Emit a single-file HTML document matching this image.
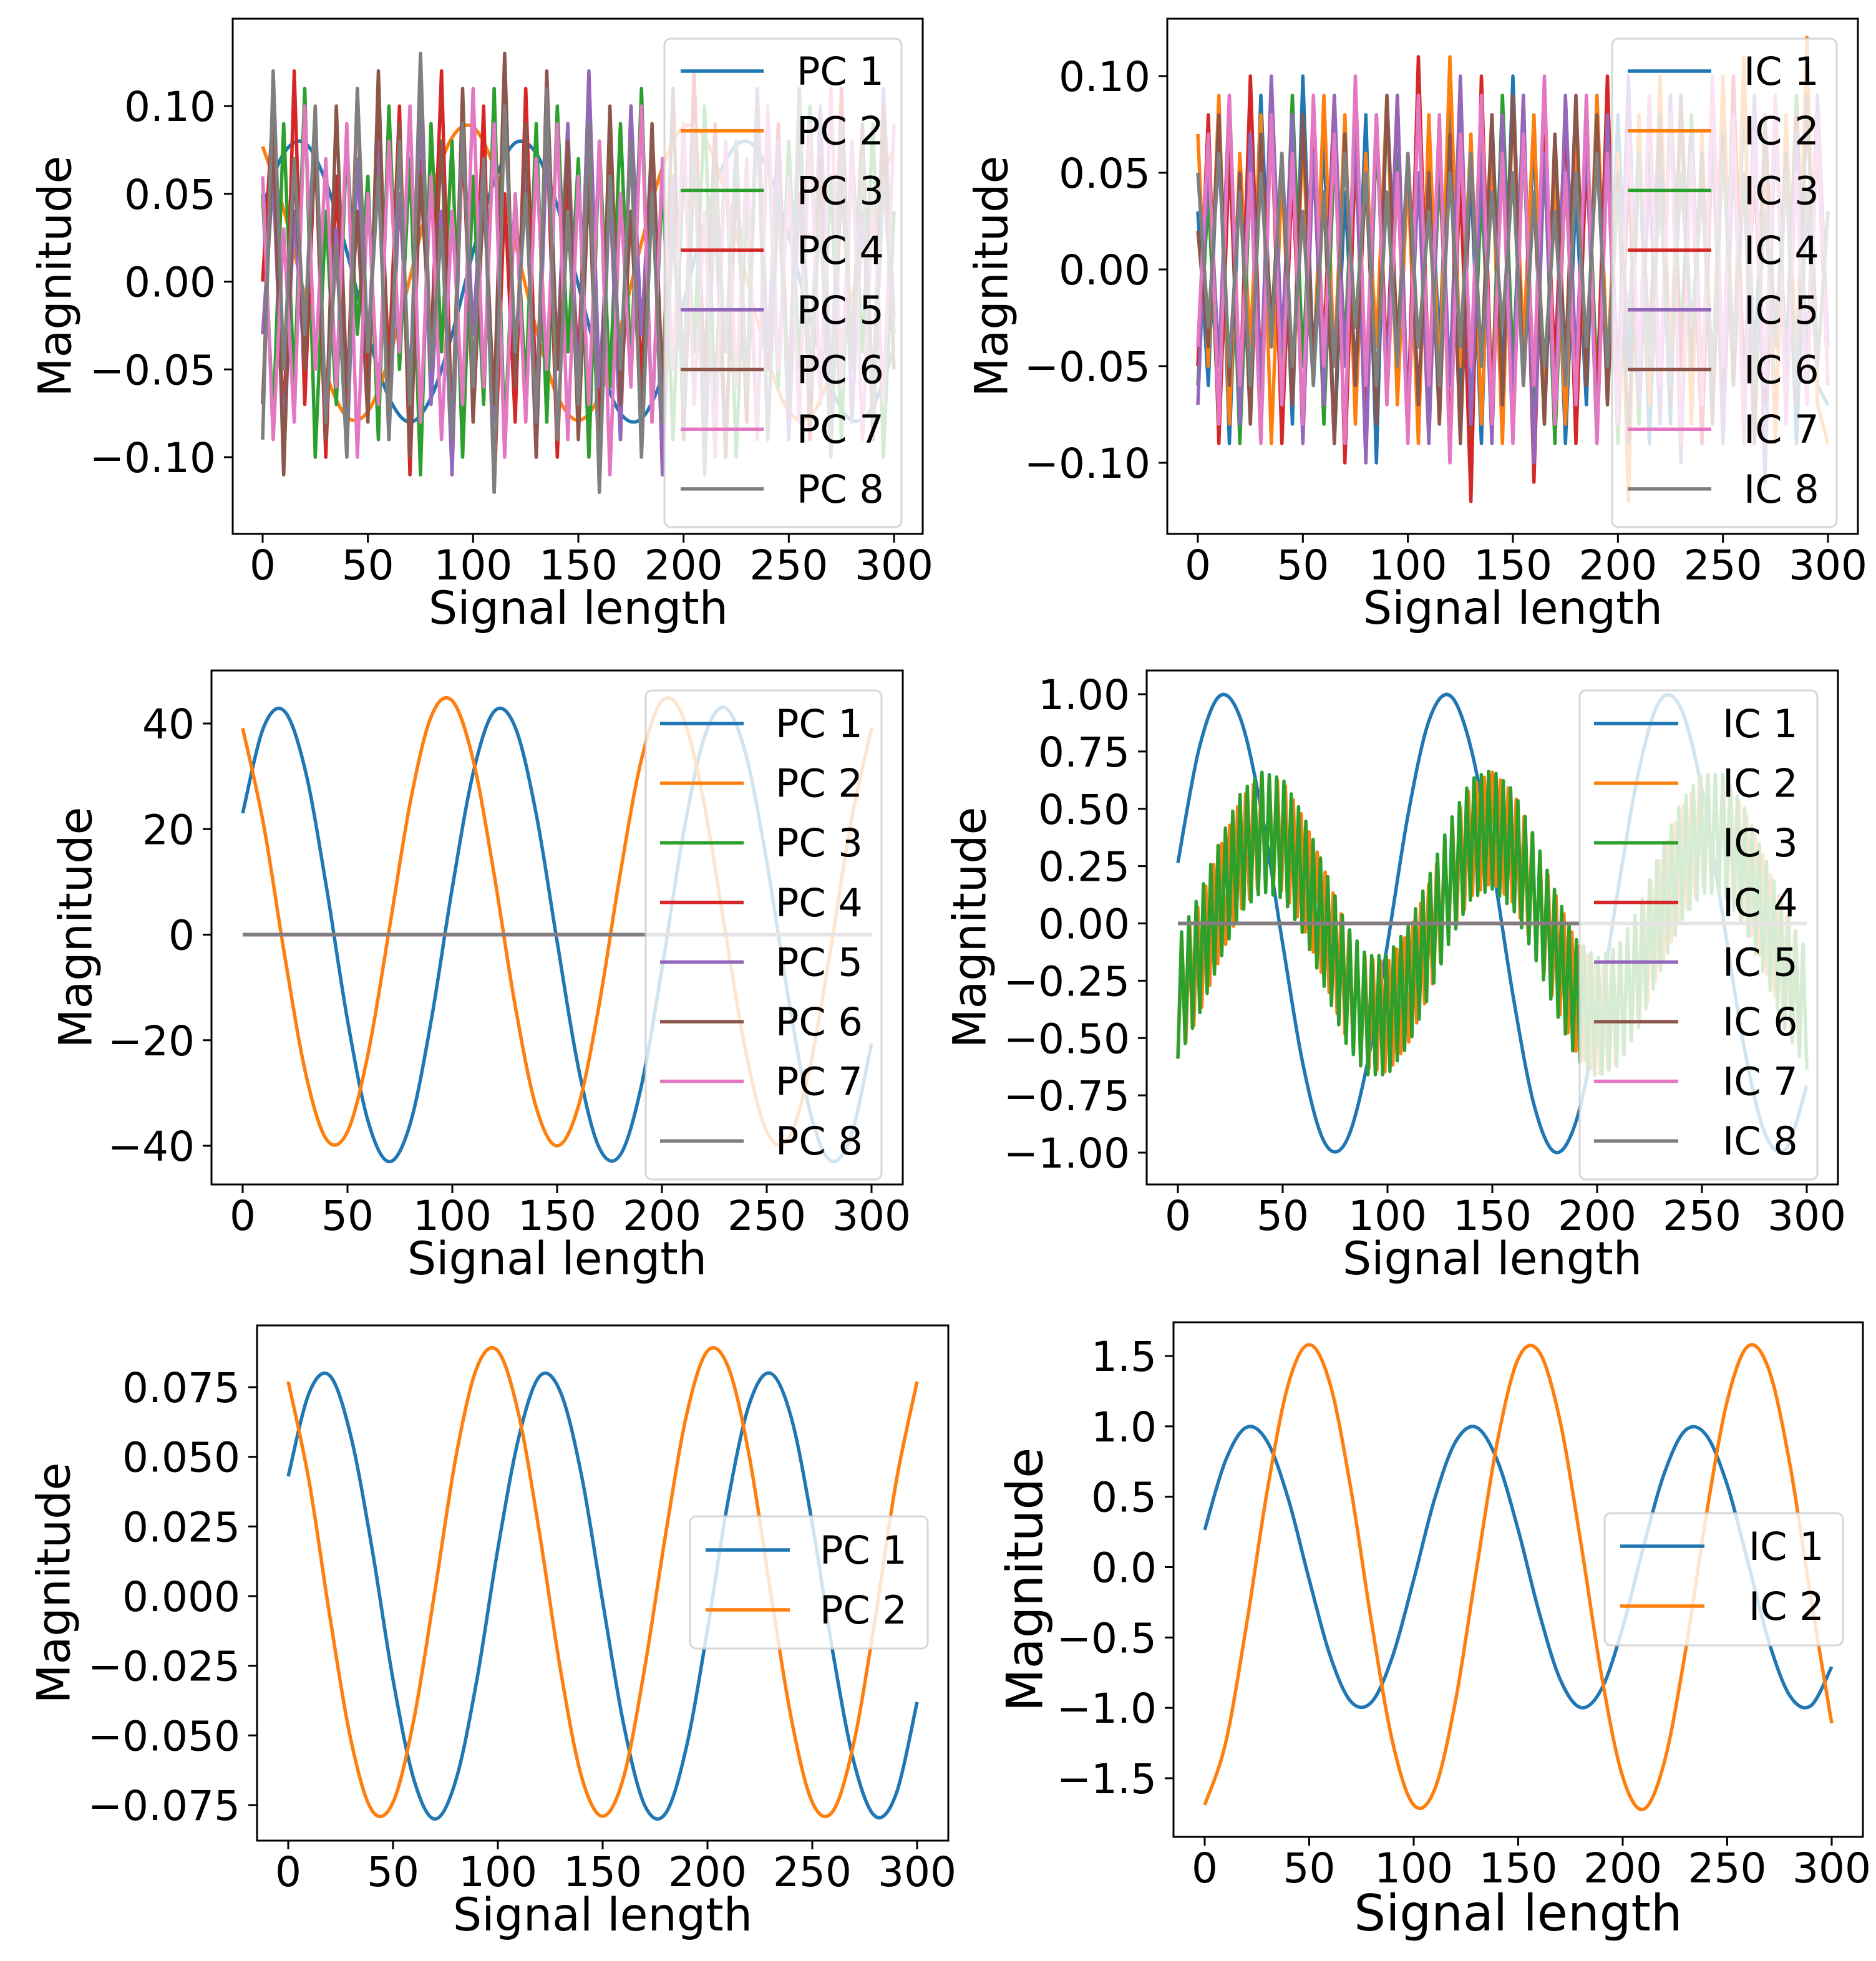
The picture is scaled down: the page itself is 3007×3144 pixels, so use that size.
<!DOCTYPE html>
<html><head><meta charset="utf-8"><style>
html,body{margin:0;padding:0;background:#fff;}
svg{display:block;font-family:"DejaVu Sans","Liberation Sans",sans-serif;}
</style></head><body>
<svg id="fig" xmlns="http://www.w3.org/2000/svg" width="3007" height="3144" viewBox="0 0 3007 3144">
<rect x="0" y="0" width="3007" height="3144" fill="#fff"/>
</svg>
<script>
// ---------- data ----------
const xTicks = [0, 50, 100, 150, 200, 250, 300];
const pcaPC1 = [23,39.3,42.3,30.9,8.9,-16.2,-35.6,-43,-35.7,-16.1,8.9,30.7,42.3,39.3,22.9,-1.3,-24.9,-40.3,-41.8,-29,-6.5,18.6,37.1,43,34.2,13.8,-11.2,-32.5,-42.7,-38.4,-20.6];
const pcaPC2 = [39.1,20.8,-3.9,-26.2,-38.8,-37.3,-22.2,1.2,25.2,41.4,44.3,33,11.3,-13.5,-32.7,-40,-32.7,-13.4,11.3,32.8,44.3,41.3,25.1,1.2,-22.2,-37.3,-38.8,-26.2,-3.9,20.9,39.1];
const normPC1 = [.043,.073,.079,.057,.017,-.030,-.066,-.080,-.066,-.030,.017,.057,.079,.073,.043,-.002,-.046,-.075,-.078,-.054,-.012,.035,.069,.080,.064,.026,-.021,-.060,-.079,-.071,-.038];
const normPC2 = [.077,.041,-.008,-.052,-.077,-.074,-.044,.002,.050,.082,.088,.065,.022,-.027,-.065,-.079,-.065,-.026,.022,.065,.088,.082,.050,.002,-.044,-.074,-.077,-.052,-.008,.041,.077];
const icIC1 = [.264,.758,.993,.890,.484,-.089,-.629,-.956,-.956,-.629,-.089,.484,.890,.993,.758,.264,-.321,-.795,-.998,-.862,-.429,.148,.671,.972,.937,.584,.030,-.534,-.914,-.985,-.708];
const icIC2 = [-1.69,-1.25,-.41,.55,1.30,1.58,1.30,.55,-.41,-1.25,-1.69,-1.58,-.95,-.02,.89,1.48,1.53,1.04,.17,-.78,-1.49,-1.72,-1.38,-.60,.37,1.18,1.57,1.40,.73,-.22,-1.11];
const mixIC2 = [-.35,-.16,.09,.30,.41,.38,.22,-.01,-.25,-.39,-.41,-.28,-.06,.18,.36,.42,.33,.13,-.11,-.32,-.42,-.37,-.20,.04,.26,.40,.40,.26,.04,-.20,-.37];
const mixIC3 = [-.33,-.14,.10,.31,.40,.37,.21,-.02,-.26,-.40,-.40,-.27,-.05,.19,.37,.41,.32,.12,-.12,-.33,-.41,-.36,-.19,.05,.27,.39,.39,.25,.03,-.21,-.38];
const mixRipple = [0.24, 0.26];
const zeros31 = [0,0,0,0,0,0,0,0,0,0,0,0,0,0,0,0,0,0,0,0,0,0,0,0,0,0,0,0,0,0,0];
const noisePC3 = [5,-8,9,-6,11,-10,4,-7,8,-3,6,-9,10,-5,7,-11,9,-4,8,-10,6,-7,11,-9,5,-6,9,-8,10,-4,7,-10,8,-6,9,-5,11,-8,6,-9,7,-4,10,-7,8,-10,5,-9,9,-6,8,-5,10,-7,6,-9,8,-4,9,-10,4];
const noisePC4 = [0,10,-9,12,-7,8,-10,6,-8,11,-6,9,-5,10,-11,7,-4,12,-9,8,-6,10,-12,5,-8,11,-7,9,-10,6,-5,11,-8,7,-9,10,-6,8,-11,5,-7,12,-6,9,-10,7,-8,11,-5,9,-7,10,-9,6,-8,11,-5,8,-9,7,-3];
const noisePC5 = [-3,6,-9,4,-5,9,-8,3,-10,7,-4,8,-9,5,-6,10,-7,4,-11,9,-3,7,-8,11,-5,6,-10,8,-4,9,-7,12,-6,5,-9,10,-3,8,-11,6,-5,9,-8,4,-10,7,-6,11,-4,8,-9,5,-7,10,-6,9,-8,4,-7,11,-2];
const noisePC6 = [-7,9,-11,7,-5,8,-9,10,-6,4,-8,12,-7,9,-10,6,-4,8,-9,11,-8,5,-7,13,-6,9,-10,12,-5,8,-9,6,-11,10,-7,4,-8,9,-6,11,-9,7,-5,8,-10,6,-7,10,-9,5,-6,9,-8,7,-10,6,-4,9,-7,10,-5];
const noisePC7 = [6,-9,3,-8,10,-5,7,-6,9,-10,5,-7,8,-4,10,-8,6,-9,4,-7,11,-6,9,-10,5,-8,7,-5,9,-9,6,-7,8,-11,5,-6,10,-8,7,-5,9,-7,4,-10,8,-6,7,-9,10,-5,6,-8,9,-7,11,-6,8,-9,5,-7,9];
const noisePC8 = [-9,12,-5,7,-3,10,-8,2,-10,11,-4,6,-9,8,-7,13,-5,3,-9,9,-6,7,-12,10,-4,5,-8,11,-9,4,-7,9,-12,6,-5,8,-10,5,-8,3,-7,9,-11,6,-4,8,-6,10,-9,5,-7,11,-6,4,-10,9,-5,7,-8,6,-3];
const noiseIC1 = [3,-6,8,-9,5,-7,9,-4,6,-8,10,-5,7,-9,4,-6,8,-10,9,-5,6,-8,7,-4,9,-7,5,-9,8,-6,10,-5,7,-8,6,-9,4,-7,9,-6,8,-5,7,-9,6,-8,9,-4,5,-7,8,-6,9,-5,7,-8,6,-9,4,-6,-7];
const noiseIC2 = [7,-5,9,-8,6,-4,8,-9,5,-7,7,-6,9,-5,8,-8,6,-4,9,-7,5,-9,8,-6,11,-5,7,-8,6,-9,9,-4,8,-7,5,-8,7,-6,9,-5,6,-12,8,-7,10,-5,9,-8,7,-6,10,-5,11,-8,6,-9,8,-5,12,-7,-9];
const noiseIC3 = [-6,4,-8,7,-9,5,-7,8,-6,9,-5,7,-8,6,-4,8,-9,7,-5,6,-8,9,-7,5,-6,8,-9,4,-7,9,-5,7,-8,6,-9,5,-7,8,-6,7,-9,5,-8,6,-7,9,-4,8,-6,7,-5,9,-8,6,-7,8,-5,9,-6,7,-4];
const noiseIC4 = [-5,8,-9,6,-7,10,-6,8,-9,5,-8,7,-4,9,-10,6,-7,8,-5,9,-8,11,-6,7,-9,5,-12,10,-7,6,-8,9,-11,7,-5,8,-9,6,-7,10,-8,5,-6,9,-7,8,-5,6,-9,7,-8,10,-6,5,-7,9,-6,8,-5,7,-6];
const noiseIC5 = [-7,6,-5,9,-8,7,-6,10,-4,8,-9,6,-7,9,-5,7,-10,8,-6,9,-8,5,-9,7,-6,10,-8,6,-9,8,-7,9,-10,6,-8,9,-5,7,-9,8,-6,10,-7,5,-8,9,-10,7,-6,8,-9,6,-7,9,-11,8,-6,7,-5,9,-4];
const noiseIC6 = [2,-4,8,-6,5,-8,7,-3,6,-7,8,-5,4,-9,7,-6,5,-8,9,-4,6,-7,5,-8,7,-9,6,-5,8,-7,9,-6,4,-8,7,-5,9,-6,8,-7,5,-9,6,-4,8,-7,9,-5,6,-8,7,-6,5,-9,8,-4,6,-7,9,-5,3];
const noiseIC7 = [-4,7,-8,9,-6,5,-9,8,-7,6,-8,9,-5,7,-9,10,-6,8,-7,5,-9,9,-6,8,-10,7,-5,9,-8,6,-9,7,-6,10,-8,5,-7,9,-9,6,-8,7,-5,9,-6,8,-9,6,-7,10,-5,8,-9,7,-6,9,-8,5,-7,8,-6];
const noiseIC8 = [5,-3,6,-5,4,-6,5,-4,6,-5,3,-6,4,-5,6,-3,5,-6,4,-5,6,-4,3,-6,5,-4,6,-5,4,-3,5,-6,4,-5,3,-6,5,-4,6,-5,4,-3,6,-5,4,-6,5,-3,4,-5,6,-4,5,-6,3,-4,5,-6,4,-5,3];
const pcLabels = ['PC 1','PC 2','PC 3','PC 4','PC 5','PC 6','PC 7','PC 8'];
const icLabels = ['IC 1','IC 2','IC 3','IC 4','IC 5','IC 6','IC 7','IC 8'];
const yTicksSmall = [-0.10,-0.05,0,0.05,0.10];
const yTicksPC = [-40,-20,0,20,40];
const yTicksIC = [-1,-0.75,-0.5,-0.25,0,0.25,0.5,0.75,1];
const yTicksNorm = [-0.075,-0.05,-0.025,0,0.025,0.05,0.075];
const yTicksIC2 = [-1.5,-1,-0.5,0,0.5,1,1.5];
const COLORS = ['#1f77b4','#ff7f0e','#2ca02c','#d62728','#9467bd','#8c564b','#e377c2','#7f7f7f'];

const NS = 'http://www.w3.org/2000/svg';
const fig = document.getElementById('fig');
function el(tag, attrs, parent){
  const e = document.createElementNS(NS, tag);
  for (const k in attrs) e.setAttribute(k, attrs[k]);
  (parent||fig).appendChild(e);
  return e;
}
function fmt(v, d){ const s = Math.abs(v).toFixed(d); return (v < -1e-9 ? '\u2212' : '') + s; }
function linePath(pts, smooth){
  if (!smooth){ return 'M' + pts.map(p => p[0].toFixed(1)+','+p[1].toFixed(1)).join('L'); }
  let d = 'M' + pts[0][0].toFixed(1) + ',' + pts[0][1].toFixed(1);
  for (let i = 0; i < pts.length-1; i++){
    const p0 = pts[Math.max(0,i-1)], p1 = pts[i], p2 = pts[i+1], p3 = pts[Math.min(pts.length-1,i+2)];
    const c1x = p1[0]+(p2[0]-p0[0])/6, c1y = p1[1]+(p2[1]-p0[1])/6;
    const c2x = p2[0]-(p3[0]-p1[0])/6, c2y = p2[1]-(p3[1]-p1[1])/6;
    d += 'C'+c1x.toFixed(1)+','+c1y.toFixed(1)+' '+c2x.toFixed(1)+','+c2y.toFixed(1)+' '+p2[0].toFixed(1)+','+p2[1].toFixed(1);
  }
  return d;
}

function panel(cfg){
  const g = el('g', {});
  
  
  const X = v => cfg.x0 + (v/300)*(cfg.x300 - cfg.x0);
  const Y = v => cfg.ya + (v - cfg.va)*(cfg.yb - cfg.ya)/(cfg.vb - cfg.va);
  const fs = cfg.fs || 66, lfs = cfg.lfs || 73;
  cfg.series.forEach((s, si) => {
    const n = s.values.length;
    let pts = s.values.map((v, i) => [X(i*300/(n-1)), Y(v*(s.scale||1))]);
    if (s.ripple){
      const dense = [];
      const m = s.rippleCount || 172;
      for (let k = 0; k <= m; k++){
        const xv = k*300/m;
        const fi = xv/300*(n-1), i0 = Math.min(n-2, Math.floor(fi)), t = fi - i0;
        const c = s.values[i0]*(1-t) + s.values[i0+1]*t;
        dense.push([X(xv), Y(c + (k%2 ? s.ripple : -s.ripple))]);
      }
      pts = dense;
    }
    const p = el('path', {d: linePath(pts, s.smooth), fill:'none', stroke: COLORS[s.color], 'stroke-width': 5.5, 'stroke-linejoin':'round', 'stroke-linecap':'butt'}, g);
    
    
  });
  const fr = el('rect', {x: cfg.left, y: cfg.top, width: cfg.right-cfg.left, height: cfg.bottom-cfg.top, fill:'none', stroke:'#000', 'stroke-width': 3}, g);
  
  
  xTicks.forEach(t => {
    const x = X(t);
    el('line', {x1:x, x2:x, y1:cfg.bottom, y2:cfg.bottom+14, stroke:'#000','stroke-width':3}, g);
    const tx = el('text', {x:x, y:cfg.bottom+73, 'font-size':fs, 'text-anchor':'middle', fill:'#000'}, g);
    tx.textContent = String(t);
    
    
  });
  cfg.yTicks.forEach(t => {
    const y = Y(t);
    el('line', {x1:cfg.left-14, x2:cfg.left, y1:y, y2:y, stroke:'#000','stroke-width':3}, g);
    const ty = el('text', {x:cfg.left-27, y:y+24, 'font-size':fs, 'text-anchor':'end', fill:'#000'}, g);
    ty.textContent = fmt(t, cfg.dec);
    
    
  });
  const xt = el('text', {x:(cfg.x0+cfg.x300)/2, y:cfg.bottom+(cfg.xtOff||144), 'font-size':lfs, 'text-anchor':'middle', fill:'#000'}, g);
  xt.textContent = 'Signal length';
  
  
  const cy = (cfg.top+cfg.bottom)/2;
  const yt = el('text', {x:cfg.ylx, y:cy, 'font-size':lfs, 'text-anchor':'middle', 'dominant-baseline':'central', fill:'#000', transform:'rotate(-90 '+cfg.ylx+' '+cy+')'}, g);
  yt.textContent = 'Magnitude';
  
  
  const L = cfg.legend;
  const lg = el('g', {}, g);
  
  
  el('rect', {x:L.x1, y:L.y1, width:L.x2-L.x1, height:L.y2-L.y1, rx:10, fill:'#fff','fill-opacity':0.8, stroke:'#cccccc','stroke-opacity':0.8,'stroke-width':3}, lg);
  cfg.series.forEach((s, i) => {
    const y = L.e0 + i*L.step;
    el('line', {x1:L.lx1, x2:L.lx2, y1:y, y2:y, stroke:COLORS[s.color], 'stroke-width':5.5}, lg);
    const t = el('text', {x:L.tx, y:y+22, 'font-size':62, fill:'#000'}, lg);
    t.textContent = s.label;
    
    
  });
}

const s = (values, color, label, opts) => Object.assign({values, color, label}, opts||{});

panel({name:'pca-noisy-panel', left:373, right:1479, top:30, bottom:856, x0:421, x300:1433, va:0.10, ya:170, vb:-0.10, yb:733, yTicks:yTicksSmall, dec:2, ylx:89,
  legend:{x1:1065,x2:1445,y1:62,y2:845,e0:114,step:95.7,lx1:1091,lx2:1224,tx:1277},
  series:[s(normPC1,0,pcLabels[0],{smooth:true}), s(normPC2,1,pcLabels[1],{smooth:true}),
    s(noisePC3,2,pcLabels[2],{scale:0.01}), s(noisePC4,3,pcLabels[3],{scale:0.01}), s(noisePC5,4,pcLabels[4],{scale:0.01}),
    s(noisePC6,5,pcLabels[5],{scale:0.01}), s(noisePC7,6,pcLabels[6],{scale:0.01}), s(noisePC8,7,pcLabels[7],{scale:0.01})]});

panel({name:'ica-noisy-panel', left:1871, right:2978, top:30, bottom:856, x0:1920, x300:2930, va:0.10, ya:122, vb:-0.10, yb:742, yTicks:yTicksSmall, dec:2, ylx:1590,
  legend:{x1:2584,x2:2944,y1:62,y2:845,e0:114,step:95.7,lx1:2609,lx2:2743,tx:2795},
  series:[s(noiseIC1,0,icLabels[0],{scale:0.01}), s(noiseIC2,1,icLabels[1],{scale:0.01}), s(noiseIC3,2,icLabels[2],{scale:0.01}), s(noiseIC4,3,icLabels[3],{scale:0.01}),
    s(noiseIC5,4,icLabels[4],{scale:0.01}), s(noiseIC6,5,icLabels[5],{scale:0.01}), s(noiseIC7,6,icLabels[6],{scale:0.01}), s(noiseIC8,7,icLabels[7],{scale:0.01})]});

panel({name:'pca-mixed-panel', left:339, right:1447, top:1075, bottom:1899, x0:389, x300:1397, va:40, ya:1160, vb:-40, yb:1837, yTicks:yTicksPC, dec:0, ylx:122,
  legend:{x1:1035,x2:1413,y1:1107,y2:1891,e0:1160,step:95.6,lx1:1058,lx2:1192,tx:1243},
  series:[s(pcaPC1,0,pcLabels[0],{smooth:true}), s(pcaPC2,1,pcLabels[1],{smooth:true}), s(zeros31,2,pcLabels[2]), s(zeros31,3,pcLabels[3]),
    s(zeros31,4,pcLabels[4]), s(zeros31,5,pcLabels[5]), s(zeros31,6,pcLabels[6]), s(zeros31,7,pcLabels[7])]});

panel({name:'ica-mixed-panel', left:1838, right:2946, top:1075, bottom:1899, x0:1888, x300:2896, va:1, ya:1113, vb:-1, yb:1848, yTicks:yTicksIC, dec:2, ylx:1555,
  legend:{x1:2532,x2:2913,y1:1107,y2:1891,e0:1160,step:95.6,lx1:2555,lx2:2690,tx:2761},
  series:[s(icIC1,0,icLabels[0],{smooth:true}), s(mixIC2,1,icLabels[1],{ripple:mixRipple[0], rippleCount:158}), s(mixIC3,2,icLabels[2],{ripple:mixRipple[1], rippleCount:172}), s(zeros31,3,icLabels[3]),
    s(zeros31,4,icLabels[4]), s(zeros31,5,icLabels[5]), s(zeros31,6,icLabels[6]), s(zeros31,7,icLabels[7])]});

panel({name:'pca-two-panel', left:412, right:1520, top:2125, bottom:2951, x0:462, x300:1470, va:0.075, ya:2224, vb:-0.075, yb:2894, yTicks:yTicksNorm, dec:3, ylx:87,
  legend:{x1:1106,x2:1487,y1:2431,y2:2643,e0:2485,step:96,lx1:1131,lx2:1266,tx:1314},
  series:[s(normPC1,0,pcLabels[0],{smooth:true}), s(normPC2,1,pcLabels[1],{smooth:true})]});

panel({name:'ica-two-panel', left:1881, right:2986, top:2120, bottom:2945, x0:1931, x300:2936, va:1.5, ya:2174, vb:-1.5, yb:2851, yTicks:yTicksIC2, dec:1, ylx:1643, lfs:80, xtOff:150,
  legend:{x1:2572,x2:2954,y1:2426,y2:2638,e0:2479,step:96,lx1:2597,lx2:2732,tx:2803},
  series:[s(icIC1,0,icLabels[0],{smooth:true}), s(icIC2,1,icLabels[1],{smooth:true})]});
</script>
</body></html>
